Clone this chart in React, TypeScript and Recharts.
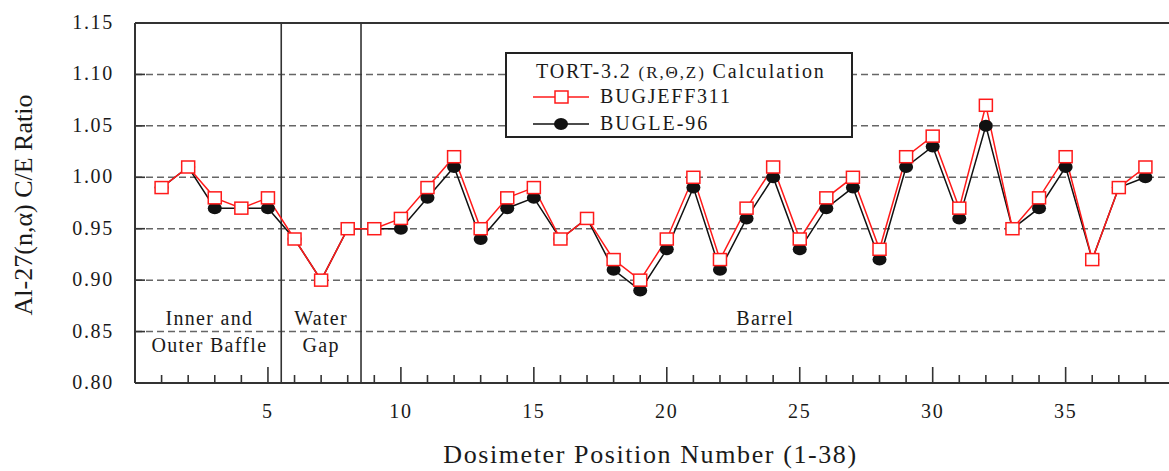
import React from 'react';
import { LineChart, Line, XAxis, YAxis, CartesianGrid, ReferenceLine, ReferenceDot, Legend } from 'recharts';

// dosimeter positions 1-38
const positions = [
  1, 2, 3, 4, 5, 6, 7, 8, 9, 10, 11, 12, 13, 14, 15, 16, 17, 18, 19,
  20, 21, 22, 23, 24, 25, 26, 27, 28, 29, 30, 31, 32, 33, 34, 35, 36, 37, 38,
];

// C/E ratios
const bugjeff311 = [
  0.99, 1.01, 0.98, 0.97, 0.98, 0.94, 0.90, 0.95, 0.95, 0.96, 0.99, 1.02, 0.95, 0.98, 0.99, 0.94, 0.96, 0.92, 0.90,
  0.94, 1.00, 0.92, 0.97, 1.01, 0.94, 0.98, 1.00, 0.93, 1.02, 1.04, 0.97, 1.07, 0.95, 0.98, 1.02, 0.92, 0.99, 1.01,
];
const bugle96 = [
  0.99, 1.01, 0.97, 0.97, 0.97, 0.94, 0.90, 0.95, 0.95, 0.95, 0.98, 1.01, 0.94, 0.97, 0.98, 0.94, 0.96, 0.91, 0.89,
  0.93, 0.99, 0.91, 0.96, 1.00, 0.93, 0.97, 0.99, 0.92, 1.01, 1.03, 0.96, 1.05, 0.95, 0.97, 1.01, 0.92, 0.99, 1.00,
];

const yTicks = [0.8, 0.85, 0.9, 0.95, 1.0, 1.05, 1.1, 1.15];
const gridValues = [0.85, 0.9, 0.95, 1.0, 1.05, 1.1];
const majorXTicks = [5, 10, 15, 20, 25, 30, 35];
const regionBounds = [5.5, 8.5];
const regionLabels = [
  { x: 2.8, lines: ['Inner and', 'Outer Baffle'] },
  { x: 7, lines: ['Water', 'Gap'] },
  { x: 23.7, lines: ['Barrel'] },
];

const data = positions.map((p, i) => ({ pos: p, jeff: bugjeff311[i], bugle: bugle96[i] }));

const FONT = '"Liberation Serif", "Times New Roman", serif';
const INK = '#1a1a1a';
const RED = '#ff1a1a';
const BLACK = '#111';

const XTick = (props: any) => {
  const { x, y, payload } = props;
  const major = majorXTicks.includes(payload.value);
  return (
    <g>
      <line x1={x} y1={y} x2={x} y2={y - (major ? 16 : 8)} stroke="#333" strokeWidth={1.6} />
      {major && (
        <text x={x} y={y + 35} textAnchor="middle" fontFamily={FONT} fontSize={20} letterSpacing={1.7} fill={INK}>
          {payload.value}
        </text>
      )}
    </g>
  );
};

const YTickLeft = (props: any) => {
  const { x, y, payload } = props;
  return (
    <g>
      <line x1={x} y1={y} x2={x + 10} y2={y} stroke="#333" strokeWidth={1.6} />
      <text x={x - 21} y={y + 6} textAnchor="end" fontFamily={FONT} fontSize={20} letterSpacing={1.7} fill={INK}>
        {Number(payload.value).toFixed(2)}
      </text>
    </g>
  );
};

const YTickRight = (props: any) => {
  const { x, y } = props;
  return <line x1={x} y1={y} x2={x - 10} y2={y} stroke="#333" strokeWidth={1.6} />;
};

const SquareDot = (props: any) => {
  const { cx, cy } = props;
  return <rect x={cx - 6.5} y={cy - 6} width={13} height={12} fill="#fff" stroke={RED} strokeWidth={1.5} />;
};

const CircleDot = (props: any) => {
  const { cx, cy } = props;
  return <ellipse cx={cx} cy={cy} rx={7} ry={6} fill={BLACK} />;
};

const RegionLabel = (lines: string[]) => (props: any) => {
  const { cx, cy } = props;
  return (
    <text x={cx} y={cy} textAnchor="middle" fontFamily={FONT} fontSize={20} letterSpacing={1.3} fill={INK}>
      {lines.map((l, i) => (
        <tspan key={l} x={cx} dy={i === 0 ? 0 : 27}>{l}</tspan>
      ))}
    </text>
  );
};

const LegendBox = () => (
  <svg width={350} height={88} style={{ display: 'block' }}>
    <rect x={1} y={1} width={346} height={84} fill="#fff" stroke="#222" strokeWidth={2} />
    <text x={31} y={26} fontFamily={FONT} fontSize={20} letterSpacing={1.9} fill={INK}>
      TORT-3.2 <tspan fontSize={17}>(R,Θ,Z)</tspan> Calculation
    </text>
    <line x1={28} y1={45} x2={84} y2={45} stroke={RED} strokeWidth={1.5} />
    <rect x={50} y={39} width={13} height={12} fill="#fff" stroke={RED} strokeWidth={1.5} />
    <text x={95} y={51} fontFamily={FONT} fontSize={20} letterSpacing={1.8} fill={INK}>BUGJEFF311</text>
    <line x1={28} y1={72} x2={84} y2={72} stroke={BLACK} strokeWidth={1.5} />
    <ellipse cx={56} cy={72} rx={7} ry={6} fill={BLACK} />
    <text x={95} y={78} fontFamily={FONT} fontSize={20} letterSpacing={2} fill={INK}>BUGLE-96</text>
  </svg>
);

const YLabel = (props: any) => {
  const { viewBox } = props;
  const cy = viewBox.y + viewBox.height / 2 + 2;
  return (
    <text x={32} y={cy} transform={`rotate(-90 32 ${cy})`} textAnchor="middle" fontFamily={FONT} fontSize={26} fill={INK}>
      Al-27(n,α) C/E Ratio
    </text>
  );
};

const XLabel = (props: any) => {
  const { viewBox } = props;
  const cx = viewBox.x + viewBox.width / 2 - 3;
  return (
    <text x={cx} y={463} textAnchor="middle" fontFamily={FONT} fontSize={26} letterSpacing={1.6} fill={INK}>
      Dosimeter Position Number (1-38)
    </text>
  );
};

export default function App() {
  return (
    <div style={{ position: 'absolute', left: 0, top: 0, width: 1169, height: 471, overflow: 'hidden', background: '#fff' }}>
      <LineChart width={1185} height={471} data={data} margin={{ top: 23, right: 13, bottom: 0, left: 0 }}>
        <CartesianGrid
          xAxisId="bottom"
          yAxisId="left"
          vertical={false}
          horizontalValues={gridValues}
          stroke="#666"
          strokeWidth={1.5}
          strokeDasharray="7 4"
        />
        <XAxis
          xAxisId="bottom"
          dataKey="pos"
          type="number"
          domain={[0, 39]}
          ticks={positions}
          interval={0}
          allowDataOverflow
          height={88}
          tickSize={0}
          tickMargin={0}
          tickLine={false}
          axisLine={{ stroke: '#333', strokeWidth: 2 }}
          tick={<XTick />}
          label={<XLabel />}
        />
        <YAxis
          yAxisId="left"
          type="number"
          domain={[0.8, 1.15]}
          ticks={yTicks}
          interval={0}
          allowDataOverflow
          width={135}
          tickSize={0}
          tickMargin={0}
          tickLine={false}
          axisLine={{ stroke: '#333', strokeWidth: 2 }}
          tick={<YTickLeft />}
          label={<YLabel />}
        />
        <YAxis
          yAxisId="right"
          orientation="right"
          type="number"
          domain={[0.8, 1.15]}
          ticks={yTicks}
          interval={0}
          allowDataOverflow
          width={0}
          tickSize={0}
          tickMargin={0}
          tickLine={false}
          axisLine={{ stroke: '#333', strokeWidth: 2 }}
          tick={<YTickRight />}
        />
        <ReferenceLine xAxisId="bottom" yAxisId="left" y={1.15} stroke="#333" strokeWidth={2} />
        {regionBounds.map((b) => (
          <ReferenceLine key={b} xAxisId="bottom" yAxisId="left" x={b} stroke="#333" strokeWidth={1.6} />
        ))}
        {regionLabels.map((r) => (
          <ReferenceDot key={r.lines[0]} xAxisId="bottom" yAxisId="left" x={r.x} y={0.856} r={0} shape={RegionLabel(r.lines)} />
        ))}
        <Line xAxisId="bottom" yAxisId="left" dataKey="bugle" name="BUGLE-96" stroke={BLACK} strokeWidth={1.5} dot={<CircleDot />} isAnimationActive={false} />
        <Line xAxisId="bottom" yAxisId="left" dataKey="jeff" name="BUGJEFF311" stroke={RED} strokeWidth={1.5} dot={<SquareDot />} isAnimationActive={false} />
        <Legend
          layout="horizontal"
          verticalAlign="middle"
          align="center"
          content={<LegendBox />}
          wrapperStyle={{ position: 'absolute', left: 505, top: 52, width: 350, height: 88 }}
        />
      </LineChart>
    </div>
  );
}
